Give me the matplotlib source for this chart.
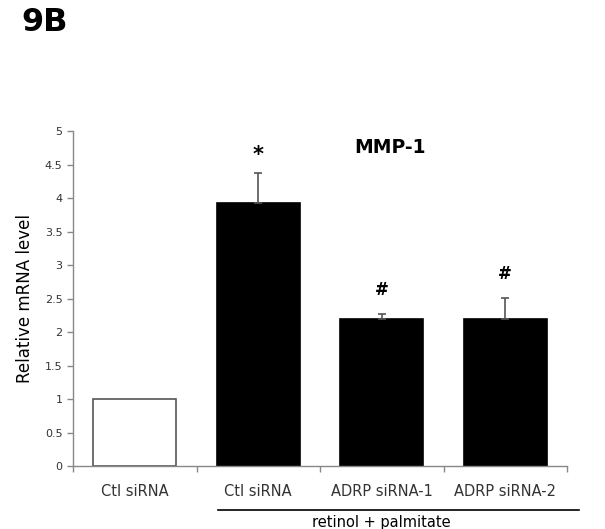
import numpy as np
import matplotlib
matplotlib.use("Agg")
import matplotlib.pyplot as plt

categories = ["Ctl siRNA", "Ctl siRNA", "ADRP siRNA-1", "ADRP siRNA-2"]
values = [1.0, 3.93, 2.20, 2.20]
errors = [0.0, 0.44, 0.07, 0.31]
marks = ["", "*", "#", "#"]
face = ["white", "black", "black", "black"]
yticks = [0, 0.5, 1, 1.5, 2, 2.5, 3, 3.5, 4, 4.5, 5]

fig = plt.figure(figsize=(6.05, 5.29), dpi=100)
ax = fig.add_axes([0.1207, 0.119, 0.8165, 0.633])

x = np.arange(len(categories))
ax.bar(x, values, width=0.67, color=face, edgecolor=["#555555", "black", "black", "black"],
       linewidth=1.2, zorder=2)
for xi, v, e in zip(x, values, errors):
    if e > 0:
        ax.errorbar(xi, v, yerr=[[0], [e]], fmt="none", ecolor="#555555",
                    elinewidth=1.2, capsize=3, capthick=1.2, zorder=3)
for xi, v, e, m in zip(x, values, errors, marks):
    if m == "*":
        ax.text(xi, v + e + 0.12, m, ha="center", va="bottom", fontsize=15, fontweight="bold")
    elif m:
        ax.text(xi, v + e + 0.22, m, ha="center", va="bottom", fontsize=12, fontweight="bold")

ax.set_xlim(-0.5, len(categories) - 0.5)
ax.set_ylim(0, 5)
ax.set_yticks(yticks)
ax.set_yticklabels([f"{t:g}" for t in yticks], fontsize=8, color="#333333")
ax.set_xticks(np.arange(len(categories) + 1) - 0.5)
ax.set_xticklabels([])
ax.tick_params(axis="both", direction="out", length=4, color="#888888", width=1)
for xi, c in zip(x, categories):
    ax.text(xi, -0.27, c, ha="center", va="top", fontsize=10.5, color="#333333")

for s in ["top", "right"]:
    ax.spines[s].set_visible(False)
for s in ["left", "bottom"]:
    ax.spines[s].set_color("#888888")
    ax.spines[s].set_linewidth(1)

ax.set_ylabel("Relative mRNA level", fontsize=12, labelpad=8)
ax.text(2.07, 4.75, "MMP-1", ha="center", va="center", fontsize=13.5, fontweight="heavy")

# group line under treated bars
ax.plot([0.67, 3.6], [-0.66, -0.66], color="black", lw=1.2, clip_on=False)
ax.text(2.0, -0.73, "retinol + palmitate", ha="center", va="top", fontsize=10.5)

fig.text(0.036, 0.958, "9B", fontsize=23, fontweight="heavy", va="center")

fig.savefig("out.png", dpi=100, facecolor="white")
